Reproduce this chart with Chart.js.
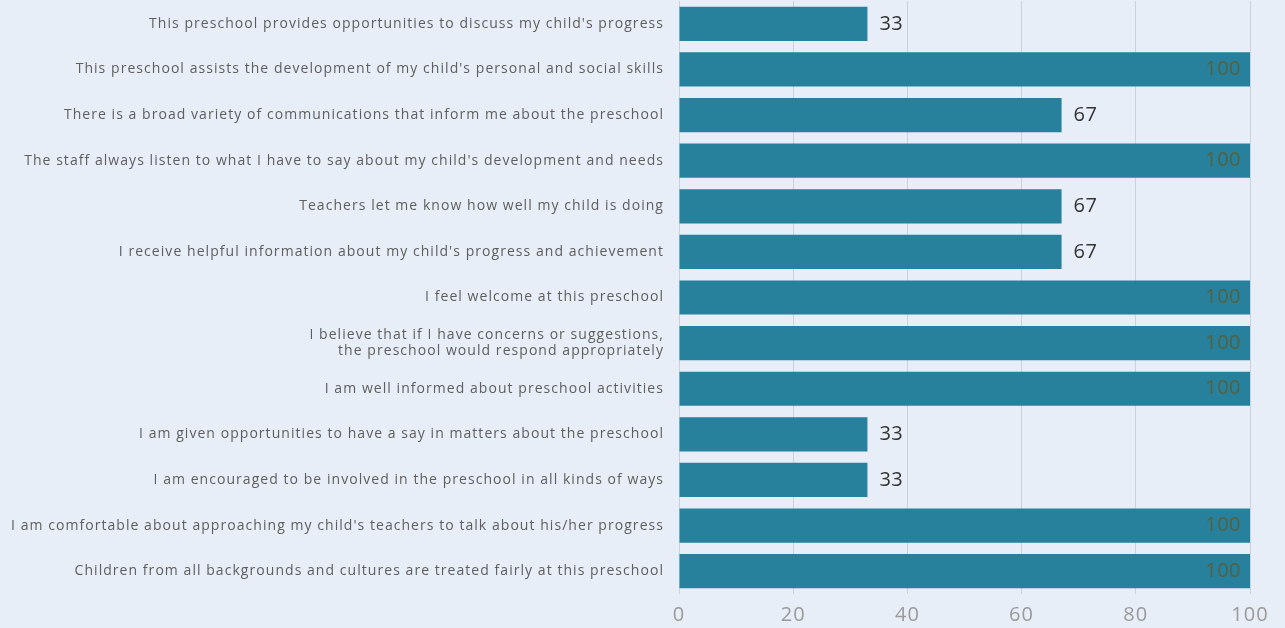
<!DOCTYPE html>
<html>
<head>
<meta charset="utf-8">
<script src="https://cdn.jsdelivr.net/npm/chart.js@4/dist/chart.umd.min.js"></script>
<style>
  html, body { margin: 0; padding: 0; background: #e7eef8; }
  #wrap { width: 1285px; height: 628px; position: relative; }
</style>
</head>
<body>
<div id="wrap"><canvas id="chart"></canvas></div>
<script>
// survey statements, top to bottom
const statements = [
    "This preschool provides opportunities to discuss my child's progress",
    "This preschool assists the development of my child's personal and social skills",
    "There is a broad variety of communications that inform me about the preschool",
    "The staff always listen to what I have to say about my child's development and needs",
    "Teachers let me know how well my child is doing",
    "I receive helpful information about my child's progress and achievement",
    "I feel welcome at this preschool",
    ["I believe that if I have concerns or suggestions,", "the preschool would respond appropriately"],
    "I am well informed about preschool activities",
    "I am given opportunities to have a say in matters about the preschool",
    "I am encouraged to be involved in the preschool in all kinds of ways",
    "I am comfortable about approaching my child's teachers to talk about his/her progress",
    "Children from all backgrounds and cultures are treated fairly at this preschool"
];
const agreePct = [33, 100, 67, 100, 67, 67, 100, 100, 100, 33, 33, 100, 100];
const xTicks = [0, 20, 40, 60, 80, 100];

// the scanned original has loose letter spacing
const spacing = {
    id: 'spacing',
    beforeUpdate(chart) { chart.ctx.letterSpacing = '1.05px'; },
    beforeDraw(chart) { chart.ctx.letterSpacing = '1.05px'; }
};

// draws the value at the end of each bar
const valueLabels = {
    id: 'valueLabels',
    afterDatasetsDraw(chart) {
        const ctx = chart.ctx;
        const meta = chart.getDatasetMeta(0);
        ctx.save();
        ctx.letterSpacing = '0.5px';
        ctx.font = '20px "Open Sans", sans-serif';
        ctx.textBaseline = 'middle';
        meta.data.forEach((bar, i) => {
            const v = agreePct[i];
            if (v >= 100) {
                ctx.fillStyle = '#56603f';
                ctx.textAlign = 'right';
                ctx.fillText(v, bar.x - 9, bar.y);
            } else {
                ctx.fillStyle = '#333333';
                ctx.textAlign = 'left';
                ctx.fillText(v, bar.x + 12, bar.y);
            }
        });
        ctx.restore();
    }
};

const ctx = document.getElementById('chart').getContext('2d');
new Chart(ctx, {
    type: 'bar',
    data: {
        labels: statements,
        datasets: [{
            data: agreePct,
            backgroundColor: '#27809c',
            borderWidth: 0,
            barPercentage: 0.75,
            categoryPercentage: 1
        }]
    },
    options: {
        indexAxis: 'y',
        responsive: true,
        maintainAspectRatio: false,
        animation: false,
        layout: { padding: { top: 1, right: 35, bottom: 0, left: 0 } },
        plugins: {
            legend: { display: false },
            tooltip: { enabled: false }
        },
        scales: {
            x: {
                min: 0,
                max: 100,
                afterBuildTicks: scale => { scale.ticks = xTicks.map(v => ({ value: v })); },
                afterFit: scale => { scale.height = 34; scale.paddingLeft = 0; scale.paddingRight = 0; },
                grid: { color: '#c9d1dc', drawTicks: false },
                border: { display: false },
                ticks: {
                    color: '#9a9a9a',
                    padding: 9,
                    font: { family: '"Open Sans", sans-serif', size: 20 }
                }
            },
            y: {
                afterFit: scale => { scale.width = 679; scale.paddingTop = 0; scale.paddingBottom = 0; },
                grid: { display: false },
                border: { display: false },
                ticks: {
                    color: '#5e5e5e',
                    padding: 7,
                    autoSkip: false,
                    font: { family: '"Open Sans", sans-serif', size: 14 }
                }
            }
        }
    },
    plugins: [spacing, valueLabels]
});
</script>
</body>
</html>
